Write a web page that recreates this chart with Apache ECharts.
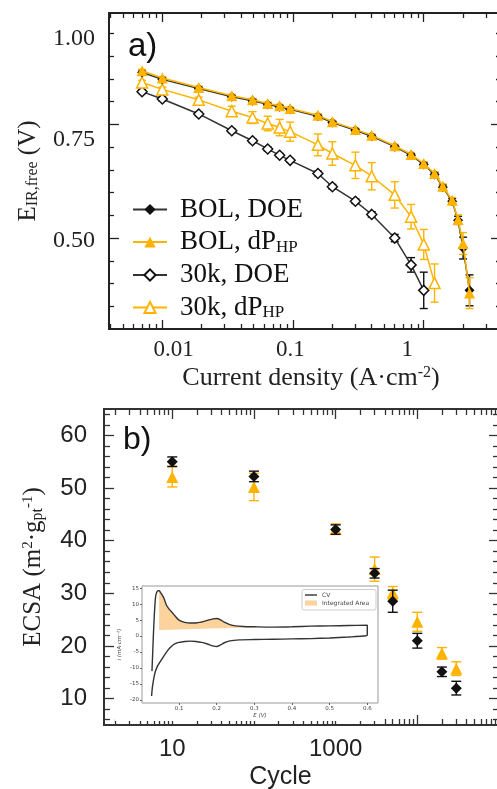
<!DOCTYPE html>
<html>
<head>
<meta charset="utf-8">
<script src="https://cdn.jsdelivr.net/npm/echarts@6/dist/echarts.min.js"></script>
<style>
html, body { margin: 0; padding: 0; background: #fff; }
#chart { width: 497px; height: 789px; }
</style>
</head>
<body>
<div id="chart"></div>
<script>
// ---- panel a) polarisation curves ----
var current = [0.007, 0.01, 0.019, 0.034, 0.049, 0.064, 0.079, 0.095, 0.155, 0.2, 0.3, 0.4, 0.6, 0.8, 1.0, 1.21, 1.4, 1.65, 1.83, 2.0, 2.24];
var eBolDoe = [0.864, 0.849, 0.829, 0.811, 0.802, 0.794, 0.789, 0.783, 0.768, 0.754, 0.737, 0.724, 0.701, 0.682, 0.662, 0.640, 0.612, 0.581, 0.539, 0.478, 0.385];
var errBolDoe = [0.003, 0.003, 0.003, 0.003, 0.003, 0.003, 0.003, 0.003, 0.003, 0.003, 0.003, 0.003, 0.003, 0.004, 0.004, 0.004, 0.005, 0.006, 0.009, 0.024, 0.034];
var eBolHp = [0.868, 0.852, 0.831, 0.813, 0.804, 0.796, 0.791, 0.785, 0.770, 0.756, 0.739, 0.726, 0.703, 0.684, 0.664, 0.642, 0.614, 0.583, 0.541, 0.488, 0.379];
var errBolHp = [0.003, 0.003, 0.003, 0.003, 0.003, 0.003, 0.003, 0.003, 0.003, 0.003, 0.003, 0.003, 0.003, 0.004, 0.004, 0.004, 0.005, 0.006, 0.010, 0.024, 0.034];
var e30kDoe = [0.822, 0.806, 0.773, 0.736, 0.714, 0.696, 0.682, 0.671, 0.642, 0.613, 0.581, 0.552, 0.500, 0.441, 0.385];
var err30kDoe = [0.004, 0.004, 0.004, 0.004, 0.004, 0.004, 0.004, 0.004, 0.005, 0.005, 0.005, 0.006, 0.008, 0.016, 0.040];
var e30kHp = [0.842, 0.827, 0.804, 0.779, 0.765, 0.752, 0.743, 0.734, 0.705, 0.686, 0.660, 0.636, 0.595, 0.547, 0.486, 0.401];
var err30kHp = [0.005, 0.005, 0.006, 0.011, 0.013, 0.016, 0.018, 0.021, 0.024, 0.026, 0.029, 0.030, 0.029, 0.027, 0.033, 0.042];

// ---- panel b) ECSA vs cycles ----
var cycles = [10, 100, 1000, 3000, 5000, 10000, 20000, 30000];
var ecsaDoe = [55.0, 52.2, 42.1, 33.8, 28.5, 21.0, 15.1, 12.0];
var errEcsaDoe = [0.9, 1.0, 0.9, 0.9, 2.1, 1.4, 0.9, 1.3];
var ecsaHp = [52.1, 50.2, 42.2, 34.6, 30.1, 24.6, 18.6, 15.7];
var errEcsaHp = [1.9, 2.6, 1.0, 2.3, 1.2, 1.8, 1.1, 1.3];

// ---- inset: CV ----
var cvUpE = [0.028, 0.030, 0.032, 0.034, 0.036, 0.038, 0.041, 0.044, 0.047, 0.050, 0.055, 0.060, 0.066, 0.072, 0.080, 0.090, 0.100, 0.115, 0.130, 0.145, 0.160, 0.175, 0.190, 0.200, 0.210, 0.220, 0.235, 0.250, 0.270, 0.300, 0.350, 0.400, 0.450, 0.500, 0.550, 0.600];
var cvUpI = [-11.0, -5.0, 1.0, 6.0, 10.0, 12.6, 13.8, 14.2, 14.2, 13.8, 12.9, 11.8, 9.8, 8.7, 7.6, 6.2, 5.0, 4.3, 4.1, 4.1, 4.4, 4.9, 5.4, 5.5, 5.1, 4.4, 3.6, 3.2, 3.0, 2.9, 2.8, 2.9, 3.1, 3.2, 3.3, 3.4];
var cvDownE = [0.600, 0.590, 0.550, 0.500, 0.450, 0.400, 0.350, 0.300, 0.260, 0.235, 0.220, 0.210, 0.200, 0.190, 0.175, 0.160, 0.145, 0.130, 0.115, 0.100, 0.090, 0.080, 0.070, 0.060, 0.050, 0.042, 0.036, 0.032, 0.029, 0.027];
var cvDownI = [0.3, 0.0, -0.3, -0.6, -0.8, -0.9, -1.0, -1.1, -1.2, -1.5, -2.1, -2.8, -3.3, -3.1, -2.5, -2.0, -1.7, -1.6, -1.7, -2.0, -2.4, -3.2, -4.5, -6.2, -8.0, -9.6, -11.5, -13.8, -16.2, -18.8];
var areaBaseE = [0.047, 0.300];
var areaBaseI = [1.9, 2.8];

// tick positions
var aXMajor = [0.01, 0.1, 1];
var aYMajor = [0.5, 0.75];
var aYMinor = [0.35, 0.40, 0.45, 0.55, 0.60, 0.65, 0.70, 0.80, 0.85, 0.90, 0.95];
var aXLabels = [0.01, 0.1, 1];
var aYLabels = [0.5, 0.75, 1.0];
var bXMajor = [10, 100, 1000, 10000];
var bXLabels = [10, 1000];
var bYMajor = [10, 20, 30, 40, 50, 60];
var cvXLabels = [0.1, 0.2, 0.3, 0.4, 0.5, 0.6];
var cvYLabels = [-20, -15, -10, -5, 0, 5, 10, 15];

function logMinors(fromExp, toExp) {
    var out = [];
    for (var e = fromExp; e <= toExp; e++) {
        for (var m = 2; m <= 9; m++) out.push(+(m * Math.pow(10, e)).toPrecision(3));
    }
    return out;
}
var aXMinor = logMinors(-3, 0);
var bXMinor = logMinors(0, 4);
var bYMinor = [];
for (var t = 6; t <= 64; t += 2) { if (t % 10 !== 0) bYMinor.push(t); }

var BLACK = '#111';
var LINE_BLACK = '#333';
var ORANGE = '#FDB300';
var SERIF = 'Liberation Serif';
var SANS = 'Liberation Sans';

function pairs(xs, ys) {
    return ys.map(function (y, i) { return [xs[i], y]; });
}
function bars(xs, ys, es) {
    return ys.map(function (y, i) { return [xs[i], y - es[i], y + es[i]]; });
}
function plainNumber(v) {
    return String(+v.toPrecision(4));
}

// axis that only draws tick marks on the frame
function tickAxis(type, grid, position, range, ticks, len, color) {
    return {
        type: type, gridIndex: grid, position: position,
        min: range[0], max: range[1],
        axisLine: { show: false, onZero: false },
        axisTick: { show: true, inside: true, length: len, customValues: ticks,
            lineStyle: { color: color || '#222', width: 1.3 } },
        axisLabel: { show: false },
        splitLine: { show: false }
    };
}

function errorSeries(name, xi, yi, data, color, cap, z) {
    return {
        name: name, type: 'custom', xAxisIndex: xi, yAxisIndex: yi, z: z,
        encode: { x: 0, y: [1, 2] },
        data: data,
        renderItem: function (params, api) {
            var lo = api.coord([api.value(0), api.value(1)]);
            var hi = api.coord([api.value(0), api.value(2)]);
            var st = { stroke: color, lineWidth: 1.4 };
            return {
                type: 'group',
                children: [
                    { type: 'line', shape: { x1: lo[0], y1: lo[1], x2: hi[0], y2: hi[1] }, style: st },
                    { type: 'line', shape: { x1: lo[0] - cap, y1: lo[1], x2: lo[0] + cap, y2: lo[1] }, style: st },
                    { type: 'line', shape: { x1: hi[0] - cap, y1: hi[1], x2: hi[0] + cap, y2: hi[1] }, style: st }
                ]
            };
        }
    };
}

var aXRange = [0.00391, 3.90];
var aYRange = [0.30, 0.995];
var aXLabelRange = [0.002805, 6.34];
var aYLabelRange = [0.282, 1.064];
var bXRange = [1.46, 100000];
var bYRange = [5, 65];

var legendRich = {
    n: { fontFamily: SERIF, fontSize: 27, lineHeight: 28, color: BLACK, padding: [0, 0, 0, 8] },
    s: { fontFamily: SERIF, fontSize: 17, lineHeight: 12, color: BLACK, verticalAlign: 'bottom' }
};
var legendText = {
    'BOL, DOE': '{n|BOL, DOE}',
    'BOL, dPHP': '{n|BOL, dP}{s|HP}',
    '30k, DOE': '{n|30k, DOE}',
    '30k, dPHP': '{n|30k, dP}{s|HP}'
};

var cvData = pairs(cvUpE, cvUpI).concat(pairs(cvDownE, cvDownI));
var AREA = 'rgba(250,165,60,0.5)';
var insetLegendText = { fontFamily: 'DejaVu Sans', fontSize: 6, color: '#444' };

var option = {
    animation: false,
    backgroundColor: '#fff',
    title: [
        { text: 'a)', left: 128, top: 30, padding: 0,
          textStyle: { fontFamily: SANS, fontSize: 33, fontWeight: 'normal', color: BLACK } },
        { text: 'b)', left: 123, top: 424, padding: 0,
          textStyle: { fontFamily: SANS, fontSize: 32, fontWeight: 'normal', color: BLACK } }
    ],
    grid: [
        { left: 109, top: 13, width: 392, height: 316, outerBoundsMode: 'none',
          show: true, borderColor: '#222', borderWidth: 2, backgroundColor: 'transparent' },
        { left: 104, top: 409, width: 395, height: 316, outerBoundsMode: 'none',
          show: true, borderColor: '#333', borderWidth: 2, backgroundColor: 'transparent' },
        { left: 142, top: 586, width: 236, height: 117, outerBoundsMode: 'none',
          show: true, borderColor: '#999', borderWidth: 1, backgroundColor: 'transparent', z: 10 }
    ],
    legend: [
        {
            data: ['BOL, DOE', 'BOL, dPHP', '30k, DOE', '30k, dPHP'],
            orient: 'vertical', left: 132, top: 196, padding: 0,
            itemWidth: 34, itemHeight: 14, itemGap: 5.5,
            formatter: function (name) { return legendText[name]; },
            textStyle: { rich: legendRich }
        },
        {
            data: [{ name: 'CV', icon: 'rect' }],
            orient: 'vertical', left: 305, top: 592, z: 12, padding: 0,
            itemWidth: 12, itemHeight: 1.4, itemGap: 0,
            textStyle: insetLegendText
        },
        {
            data: [{ name: 'Integrated Area', icon: 'rect' }],
            orient: 'vertical', left: 305, top: 600, z: 12, padding: 0,
            itemWidth: 12, itemHeight: 5, itemGap: 0,
            textStyle: insetLegendText
        }
    ],
    graphic: [
        { type: 'rect', shape: { x: 115, y: 583, width: 265, height: 138 }, style: { fill: '#fff' }, z: 5 },
        { type: 'rect', shape: { x: 302, y: 589.5, width: 74, height: 20.5, r: 2 },
          style: { fill: '#fff', stroke: '#ccc', lineWidth: 1 }, z: 11 }
    ],
    xAxis: [
        tickAxis('log', 0, 'bottom', aXRange, aXMajor, 9),
        tickAxis('log', 0, 'bottom', aXRange, aXMinor, 5),
        tickAxis('log', 0, 'top', aXRange, aXMajor, 9),
        tickAxis('log', 0, 'top', aXRange, aXMinor, 5),
        {
            type: 'log', gridIndex: 0, position: 'bottom', min: aXLabelRange[0], max: aXLabelRange[1],
            axisLine: { show: false, onZero: false }, axisTick: { show: false }, splitLine: { show: false },
            axisLabel: { customValues: aXLabels, margin: 9, fontFamily: SERIF, fontSize: 23, color: '#222',
                formatter: plainNumber },
            name: '{t|Current density (A·cm}{p|-2}{t|)}', nameLocation: 'middle', nameGap: 36,
            nameTextStyle: { padding: [0, 0, 0, 12], rich: {
                t: { fontFamily: SERIF, fontSize: 26, color: '#222' },
                p: { fontFamily: SERIF, fontSize: 16, color: '#222', verticalAlign: 'top', lineHeight: 12 } } }
        },
        tickAxis('log', 1, 'bottom', bXRange, bXMajor, 10, '#333'),
        tickAxis('log', 1, 'bottom', bXRange, bXMinor, 6, '#333'),
        tickAxis('log', 1, 'top', bXRange, bXMajor, 10, '#333'),
        tickAxis('log', 1, 'top', bXRange, bXMinor, 6, '#333'),
        {
            type: 'value', gridIndex: 2, position: 'bottom', min: 0.0015, max: 0.6285, z: 10,
            axisLine: { show: false, onZero: false }, splitLine: { show: false },
            axisTick: { show: true, length: 2, customValues: cvXLabels, lineStyle: { color: '#666' } },
            axisLabel: { customValues: cvXLabels, margin: 3, fontFamily: 'DejaVu Sans', fontSize: 5.5, color: '#444' },
            name: 'E (V)', nameLocation: 'middle', nameGap: 10,
            nameTextStyle: { fontFamily: 'DejaVu Sans', fontSize: 5.5, fontStyle: 'italic', color: '#444' }
        },
        // label axis for panel b sits on the same bottom edge
        {
            type: 'log', gridIndex: 1, position: 'bottom', min: bXRange[0], max: bXRange[1],
            axisLine: { show: false, onZero: false }, axisTick: { show: false }, splitLine: { show: false },
            axisLabel: { customValues: bXLabels, margin: 12, fontFamily: SANS, fontSize: 24, color: '#222',
                formatter: plainNumber },
            name: 'Cycle', nameLocation: 'middle', nameGap: 40,
            nameTextStyle: { fontFamily: SANS, fontSize: 25, color: '#222', padding: [0, 42, 0, 0] }
        }
    ],
    yAxis: [
        tickAxis('value', 0, 'left', aYRange, aYMajor, 10),
        tickAxis('value', 0, 'left', aYRange, aYMinor, 5),
        tickAxis('value', 0, 'right', aYRange, aYMajor, 10),
        tickAxis('value', 0, 'right', aYRange, aYMinor, 5),
        {
            type: 'value', gridIndex: 0, position: 'left', min: aYLabelRange[0], max: aYLabelRange[1],
            axisLine: { show: false, onZero: false }, axisTick: { show: false }, splitLine: { show: false },
            axisLabel: { customValues: aYLabels, margin: 14, fontFamily: SERIF, fontSize: 24, color: '#222',
                formatter: function (v) { return v.toFixed(2); } },
            name: '{e|E}{s|IR,free}{e| (V)}', nameLocation: 'middle', nameGap: 68,
            nameTextStyle: { rich: {
                e: { fontFamily: SERIF, fontSize: 25, color: '#222' },
                s: { fontFamily: SERIF, fontSize: 16, color: '#222', verticalAlign: 'bottom', lineHeight: 12 } } }
        },
        {
            type: 'value', gridIndex: 1, position: 'left', min: bYRange[0], max: bYRange[1],
            axisLine: { show: false, onZero: false }, splitLine: { show: false },
            axisTick: { show: true, inside: true, length: 10, customValues: bYMajor, lineStyle: { color: '#333', width: 1.3 } },
            axisLabel: { customValues: bYMajor, margin: 17, fontFamily: SANS, fontSize: 24, color: '#222' },
            name: '{t|ECSA (m}{p|2}{t|·g}{b|pt}{p|-1}{t|)}', nameLocation: 'middle', nameGap: 58,
            nameTextStyle: { rich: {
                t: { fontFamily: SERIF, fontSize: 25, color: '#222' },
                p: { fontFamily: SERIF, fontSize: 15, color: '#222', verticalAlign: 'top', lineHeight: 12 },
                b: { fontFamily: SERIF, fontSize: 16, color: '#222', verticalAlign: 'bottom', lineHeight: 12 } } }
        },
        tickAxis('value', 1, 'left', bYRange, bYMinor, 6, '#333'),
        tickAxis('value', 1, 'right', bYRange, bYMajor, 10, '#333'),
        tickAxis('value', 1, 'right', bYRange, bYMinor, 6, '#333'),
        {
            type: 'value', gridIndex: 2, position: 'left', min: -21, max: 15.7, z: 10,
            axisLine: { show: false, onZero: false }, splitLine: { show: false },
            axisTick: { show: true, length: 2, customValues: cvYLabels, lineStyle: { color: '#666' } },
            axisLabel: { customValues: cvYLabels, margin: 3, fontFamily: 'DejaVu Sans', fontSize: 5.5, color: '#444' },
            name: 'i (mA·cm⁻²)', nameLocation: 'middle', nameGap: 19,
            nameTextStyle: { fontFamily: 'DejaVu Sans', fontSize: 5.5, fontStyle: 'italic', color: '#444' }
        }
    ],
    series: [
        // panel a
        errorSeries('err bol doe', 0, 0, bars(current, eBolDoe, errBolDoe), BLACK, 4, 3),
        errorSeries('err 30k doe', 0, 0, bars(current, e30kDoe, err30kDoe), BLACK, 4, 3),
        errorSeries('err 30k hp', 0, 0, bars(current, e30kHp, err30kHp), ORANGE, 4, 3),
        errorSeries('err bol hp', 0, 0, bars(current, eBolHp, errBolHp), ORANGE, 4, 3),
        {
            name: '30k, DOE', type: 'line', xAxisIndex: 0, yAxisIndex: 0, z: 4,
            data: pairs(current, e30kDoe), symbol: 'diamond', symbolSize: 10,
            lineStyle: { color: LINE_BLACK, width: 1.5 },
            itemStyle: { color: '#fff', borderColor: BLACK, borderWidth: 1.5 }
        },
        {
            name: '30k, dPHP', type: 'line', xAxisIndex: 0, yAxisIndex: 0, z: 4,
            data: pairs(current, e30kHp), symbol: 'triangle', symbolSize: 11,
            lineStyle: { color: ORANGE, width: 1.5 },
            itemStyle: { color: '#fff', borderColor: ORANGE, borderWidth: 1.5 }
        },
        {
            name: 'BOL, DOE', type: 'line', xAxisIndex: 0, yAxisIndex: 0, z: 4,
            data: pairs(current, eBolDoe), symbol: 'diamond', symbolSize: 10,
            lineStyle: { color: LINE_BLACK, width: 1.5 },
            itemStyle: { color: BLACK }
        },
        {
            name: 'BOL, dPHP', type: 'line', xAxisIndex: 0, yAxisIndex: 0, z: 5,
            data: pairs(current, eBolHp), symbol: 'triangle', symbolSize: 11,
            lineStyle: { color: ORANGE, width: 1.5 },
            itemStyle: { color: ORANGE }
        },
        // panel b
        errorSeries('err ecsa hp', 5, 5, bars(cycles, ecsaHp, errEcsaHp), ORANGE, 5, 3),
        {
            name: 'ECSA dPHP', type: 'scatter', xAxisIndex: 5, yAxisIndex: 5, z: 3,
            data: pairs(cycles, ecsaHp), symbol: 'triangle', symbolSize: 12,
            itemStyle: { color: ORANGE, opacity: 1 }
        },
        errorSeries('err ecsa doe', 5, 5, bars(cycles, ecsaDoe, errEcsaDoe), BLACK, 5, 4),
        {
            name: 'ECSA DOE', type: 'scatter', xAxisIndex: 5, yAxisIndex: 5, z: 4,
            data: pairs(cycles, ecsaDoe), symbol: 'diamond', symbolSize: 11,
            itemStyle: { color: BLACK, opacity: 1 }
        },
        // inset
        {
            name: 'Integrated Area', type: 'custom', xAxisIndex: 9, yAxisIndex: 9, z: 10,
            itemStyle: { color: AREA },
            data: [[areaBaseE[0], areaBaseI[0]]],
            renderItem: function (params, api) {
                var pts = [];
                for (var i = 0; i < cvUpE.length; i++) {
                    if (cvUpE[i] >= areaBaseE[0] && cvUpE[i] <= areaBaseE[1]) pts.push(api.coord([cvUpE[i], cvUpI[i]]));
                }
                pts.push(api.coord([areaBaseE[1], areaBaseI[1]]));
                pts.push(api.coord([areaBaseE[0], areaBaseI[0]]));
                return { type: 'polygon', shape: { points: pts }, style: { fill: AREA } };
            }
        },
        {
            name: 'CV', type: 'line', xAxisIndex: 9, yAxisIndex: 9, z: 11,
            data: cvData, symbol: 'none', smooth: 0.3,
            lineStyle: { color: '#333', width: 1.4 },
            itemStyle: { color: '#333' }
        }
    ]
};

var chart = echarts.init(document.getElementById('chart'));
chart.setOption(option);
</script>
</body>
</html>
